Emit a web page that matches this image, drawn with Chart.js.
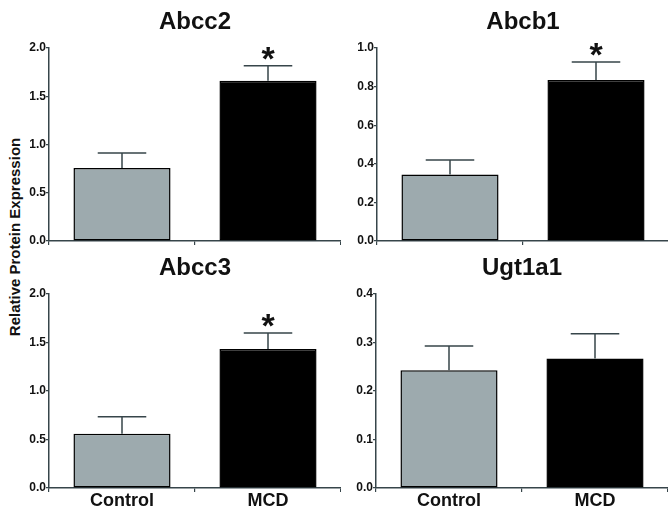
<!DOCTYPE html>
<html lang="en">
<head>
<meta charset="UTF-8">
<title>Relative Protein Expression</title>
<script src="https://cdn.jsdelivr.net/npm/chart.js"></script>
<style>
    html, body { margin: 0; padding: 0; background: #fff; overflow: hidden; }
    body { width: 668px; height: 511px; position: relative; }
    .panel { position: absolute; }
    #ylabel {
        position: absolute; left: -135px; top: 228px; width: 300px; height: 18px;
        line-height: 18px; text-align: center; transform: rotate(-90deg);
        font: bold 15px "Liberation Sans", Arial, sans-serif; color: #111;
    }
</style>
</head>
<body>
    <div id="ylabel">Relative Protein Expression</div>
    <div class="panel" style="left:9px;top:0px"><canvas id="c0" width="332" height="249"></canvas></div>
    <div class="panel" style="left:337px;top:0px"><canvas id="c1" width="332" height="249"></canvas></div>
    <div class="panel" style="left:9px;top:246px"><canvas id="c2" width="332" height="265"></canvas></div>
    <div class="panel" style="left:336px;top:246px"><canvas id="c3" width="332" height="265"></canvas></div>

<script>
    // groups on the x axis
    const groups = ['Control', 'MCD'];

    // means and upper error (SEM)
    const abcc2Mean = [0.756, 1.661];
    const abcc2Err = [0.156, 0.156];
    const abcb1Mean = [0.344, 0.834];
    const abcb1Err = [0.076, 0.093];
    const abcc3Mean = [0.56, 1.433];
    const abcc3Err = [0.175, 0.165];
    const ugt1a1Mean = [0.243, 0.267];
    const ugt1a1Err = [0.05, 0.051];

    // significance marks (*) per bar
    const abcc2Sig = [false, true];
    const abcb1Sig = [false, true];
    const abcc3Sig = [false, true];
    const ugt1a1Sig = [false, false];

    // y axis ranges
    const yMax = [2.0, 1.0, 2.0, 0.4];
    const yStep = [0.5, 0.2, 0.5, 0.1];

    const FONT = '"Liberation Sans", Arial, sans-serif';
    const AXIS = '#37454a';
    const barColors = ['#9daaae', '#000000'];

    Chart.defaults.font.family = FONT;
    Chart.defaults.color = '#111';

    // error bars and asterisks drawn through the y scale
    const errorBars = {
        id: 'errorBars',
        afterDatasetsDraw(chart, args, opts) {
            const ctx = chart.ctx;
            const y = chart.scales.y;
            const meta = chart.getDatasetMeta(0);
            meta.data.forEach((bar, i) => {
                const top = y.getPixelForValue(opts.mean[i] + opts.err[i]);
                const half = bar.width / 4;
                ctx.save();
                ctx.strokeStyle = AXIS;
                ctx.lineWidth = 1.5;
                ctx.beginPath();
                ctx.moveTo(bar.x, bar.y);
                ctx.lineTo(bar.x, top);
                ctx.moveTo(bar.x - half, top);
                ctx.lineTo(bar.x + half, top);
                ctx.stroke();
                if (opts.sig[i]) {
                    ctx.fillStyle = '#111';
                    ctx.font = 'bold 34px ' + FONT;
                    ctx.textAlign = 'center';
                    ctx.textBaseline = 'alphabetic';
                    ctx.fillText('*', bar.x, top + 4);
                }
                ctx.restore();
            });
        }
    };

    function makePanel(id, title, mean, err, sig, max, step, showLabels) {
        new Chart(document.getElementById(id), {
            type: 'bar',
            data: {
                labels: groups,
                datasets: [{
                    data: mean,
                    backgroundColor: barColors,
                    borderColor: '#000',
                    borderWidth: 1.5,
                    borderSkipped: false,
                    categoryPercentage: 1,
                    barPercentage: 0.665
                }]
            },
            options: {
                responsive: false,
                animation: false,
                devicePixelRatio: 1,
                layout: { padding: 0 },
                plugins: {
                    legend: { display: false },
                    tooltip: { enabled: false },
                    title: {
                        display: true,
                        text: title,
                        fullSize: false,
                        color: '#111',
                        font: { size: 24, weight: 'bold', lineHeight: 1.15 },
                        padding: { top: 9, bottom: 11.4 }
                    },
                    errorBars: { mean: mean, err: err, sig: sig }
                },
                scales: {
                    x: {
                        grid: { drawOnChartArea: false, drawTicks: true, tickLength: 4, color: AXIS, lineWidth: 1.2 },
                        border: { display: true, color: AXIS, width: 1.5 },
                        ticks: {
                            display: showLabels,
                            padding: 0,
                            color: '#111',
                            font: { size: 18, weight: 'bold', lineHeight: 1 }
                        },
                        afterFit(scale) { scale.height = showLabels ? 23 : 8; }
                    },
                    y: {
                        min: 0,
                        max: max,
                        grid: { drawOnChartArea: false, drawTicks: true, tickLength: 3, color: AXIS, lineWidth: 1.2 },
                        border: { display: true, color: AXIS, width: 1.5 },
                        ticks: {
                            stepSize: step,
                            padding: 0,
                            color: '#111',
                            font: { size: 12, weight: 'bold' },
                            callback: v => v.toFixed(1)
                        },
                        afterFit(scale) { scale.width = 40; }
                    }
                }
            },
            plugins: [errorBars]
        });
    }

    makePanel('c0', 'Abcc2', abcc2Mean, abcc2Err, abcc2Sig, yMax[0], yStep[0], false);
    makePanel('c1', 'Abcb1', abcb1Mean, abcb1Err, abcb1Sig, yMax[1], yStep[1], false);
    makePanel('c2', 'Abcc3', abcc3Mean, abcc3Err, abcc3Sig, yMax[2], yStep[2], true);
    makePanel('c3', 'Ugt1a1', ugt1a1Mean, ugt1a1Err, ugt1a1Sig, yMax[3], yStep[3], true);
</script>
</body>
</html>
